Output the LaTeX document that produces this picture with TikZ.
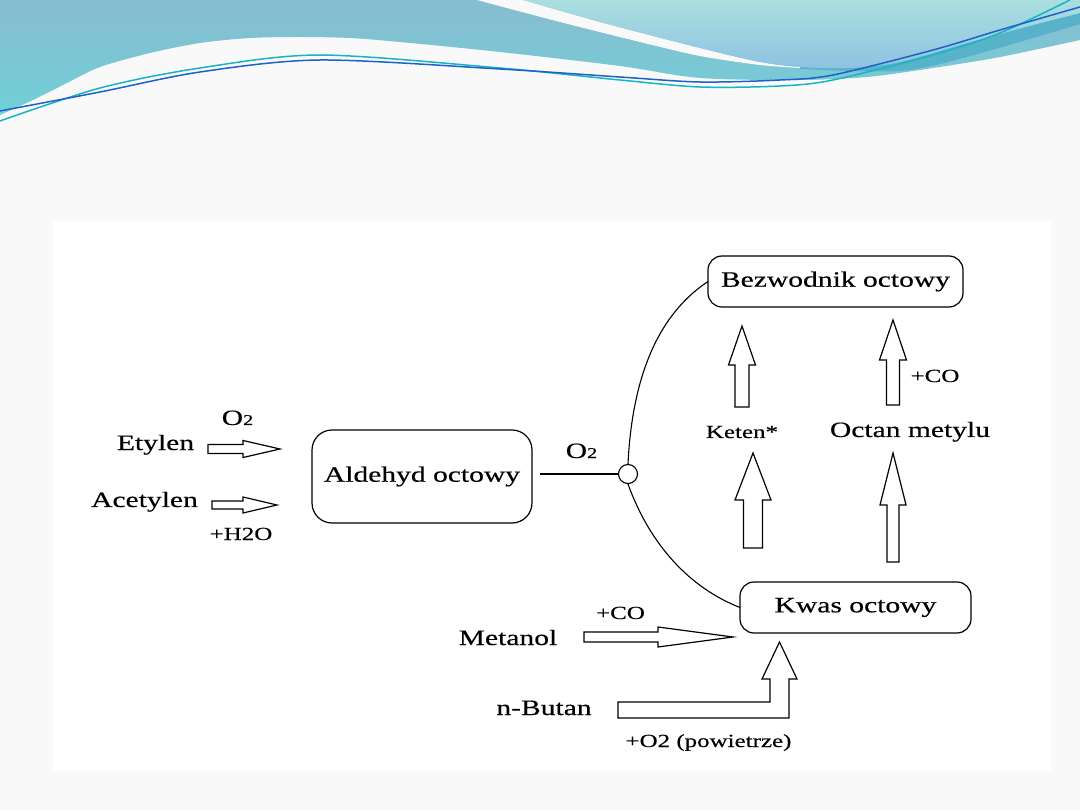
\documentclass[tikz,border=0pt]{standalone}
\usepackage{fontspec}
\setmainfont{Liberation Serif}[FakeStretch=1.35,FakeBold=0.4]
\usetikzlibrary{calc}
\definecolor{pagebg}{HTML}{F9F9F9}
\definecolor{waveA1}{HTML}{88BCD0}
\definecolor{waveA2}{HTML}{70D0D8}
\definecolor{waveB1}{HTML}{AADFE0}
\definecolor{waveB2}{HTML}{8EC2E1}
\definecolor{waveDark}{HTML}{58B3CA}
\definecolor{lineTeal}{HTML}{18B4C4}
\definecolor{lineBlue}{HTML}{1E62C8}
\newcommand\mainsz{\fontsize{21.9}{26}\selectfont}
\newcommand\smallsz{\fontsize{18.5}{22}\selectfont}
\newcommand\subsz{\fontsize{15}{15}\selectfont}
% horizontal block arrow: tail, tip, head length, shaft half, head half
\newcommand\hblock[5]{\draw[blockarrow] ($(#1)+(0,-#4)$) -- ($(#2)+(-#3,-#4)$) -- ($(#2)+(-#3,-#5)$) -- (#2) -- ($(#2)+(-#3,#5)$) -- ($(#2)+(-#3,#4)$) -- ($(#1)+(0,#4)$) -- cycle;}
% upward block arrow: tail, tip, head length, shaft half, head half
\newcommand\vblock[5]{\draw[blockarrow] ($(#1)+(-#4,0)$) -- ($(#2)+(-#4,#3)$) -- ($(#2)+(-#5,#3)$) -- (#2) -- ($(#2)+(#5,#3)$) -- ($(#2)+(#4,#3)$) -- ($(#1)+(#4,0)$) -- cycle;}
\tikzset{
  box/.style={draw, line width=1.2pt, rounded corners=14pt, inner sep=0pt, outer sep=0pt, font=\mainsz},
  lbl/.style={inner sep=0pt, anchor=base, font=\mainsz},
  slbl/.style={inner sep=0pt, anchor=base, font=\smallsz},
  blockarrow/.style={draw, fill=white, line width=1.2pt, line join=miter},
  link/.style={draw, line width=1.1pt},
  wline/.style={line width=1.5pt}
}
\begin{document}
\begin{tikzpicture}[x=1pt,y=-1pt]
\useasboundingbox (0,0) rectangle (1080,810);
\fill[pagebg] (0,0) rectangle (1080,810);
% ---- header waves ----
\shade[top color=waveA1, bottom color=waveA2]
  (0,0) -- (1080,0) -- plot[smooth] coordinates {(1080,40) (1000,57) (933,68) (867,77) (800,80) (700,78) (620,66) (500,52) (400,42) (350,38) (300,37) (250,38) (200,43) (150,53) (100,67) (67,83) (33,100) (0,115)} -- cycle;
\fill[pagebg] plot[smooth] coordinates {(477,0) (560,22) (640,42) (700,56) (760,65) (800,68)}
  -- plot[smooth] coordinates {(800,67) (760,62) (700,48) (600,22) (523,0)} -- cycle;
\fill[waveDark] plot[smooth] coordinates {(800,67) (850,68) (900,62) (967,43) (1033,25) (1080,13)}
  -- (1080,24) -- plot[smooth] coordinates {(1080,24) (967,57) (900,71) (800,69)} -- cycle;
\shade[top color=waveB1, bottom color=waveB2]
  (523,0) -- (1080,0) -- plot[smooth] coordinates {(1080,13) (1033,25) (967,43) (900,62) (850,68) (800,67) (760,62) (700,48) (600,22) (523,0)} -- cycle;
\draw[wline, lineTeal] plot[smooth] coordinates {(0,121) (100,88) (200,68) (320,55) (500,68) (620,80) (700,87) (780,86) (833,80) (933,55) (1000,33) (1070,0)};
\draw[wline, lineBlue] plot[smooth] coordinates {(0,111) (100,92) (200,72) (320,60) (500,69) (620,77) (700,82) (780,80) (833,75) (933,50) (1000,30) (1080,7)};
% ---- panel ----
\fill[white] (53,221) rectangle (1051,771);
% ---- boxes ----
\node[box, minimum width=220pt, minimum height=93pt, rounded corners=20pt] (ald) at (422,476.5) {Aldehyd octowy};
\node[box, minimum width=255pt, minimum height=51pt] (bez) at (835.5,281.5) {Bezwodnik octowy};
\node[box, minimum width=231pt, minimum height=51pt] (kwas) at (855.5,607.5) {Kwas octowy};
\node[draw, circle, line width=1.1pt, minimum size=19pt, inner sep=0pt, fill=white] (circ) at (628,474) {};
% ---- texts ----
\node[lbl] (etylen) at (155.5,450) {Etylen};
\node[lbl] (o2a) at (237.5,425) {O{\subsz 2}};
\node[lbl] (acet) at (144.5,507) {Acetylen};
\node[slbl] (h2o) at (241,540) {+H2O};
\node[lbl] (o2b) at (581.5,458) {O{\subsz 2}};
\node[slbl] (keten) at (742,438) {Keten*};
\node[lbl] (octan) at (910,437) {Octan metylu};
\node[slbl] (co1) at (935,382) {+CO};
\node[lbl] (metanol) at (508,645) {Metanol};
\node[slbl] (co2) at (620.5,619) {+CO};
\node[lbl] (butan) at (544,715) {n-Butan};
\node[slbl] (pow) at (708.5,747) {+O2 (powietrze)};
% ---- connectors ----
\draw[link, shorten <=8pt] (circ.west -| ald.east) -- (circ.west);
\draw[link] (circ.north) .. controls (633,360) and (668,308) .. (bez.west);
\draw[link] (circ.south) .. controls (650,545) and (690,588) .. (kwas.west);
% ---- block arrows ----
\coordinate (etT) at (208,449);  \coordinate (etH) at (280,449);
\coordinate (acT) at (212,505);  \coordinate (acH) at (277,505);
\coordinate (meT) at (584,637);  \coordinate (meH) at (733,637);
\coordinate (k1T) at (742,407);  \coordinate (k1H) at (742,326);
\coordinate (o1T) at (893,405);  \coordinate (o1H) at (893,320);
\coordinate (k2T) at (753,548);  \coordinate (k2H) at (753,453);
\coordinate (o2T) at (893,562);  \coordinate (o2H) at (893,453);
\coordinate (btT) at (618,710);  \coordinate (btH) at (779.5,642);
\hblock{etT}{etH}{37}{4.5}{8.5}
\hblock{acT}{acH}{34}{4}{8}
\hblock{meT}{meH}{75}{5}{10}
\vblock{k1T}{k1H}{39}{7}{13.5}
\vblock{o1T}{o1H}{40}{6.5}{13.5}
\vblock{k2T}{k2H}{47}{9.5}{18}
\vblock{o2T}{o2H}{52}{6}{13}
\draw[blockarrow] ($(btT)+(0,-8)$) -- ($(btT -| btH)+(-9.5,-8)$) -- ($(btH)+(-9.5,37)$) -- ($(btH)+(-17.5,37)$) -- (btH) -- ($(btH)+(17.5,37)$) -- ($(btH)+(9.5,37)$) -- ($(btT -| btH)+(9.5,8)$) -- ($(btT)+(0,8)$) -- cycle;
\end{tikzpicture}
\end{document}
